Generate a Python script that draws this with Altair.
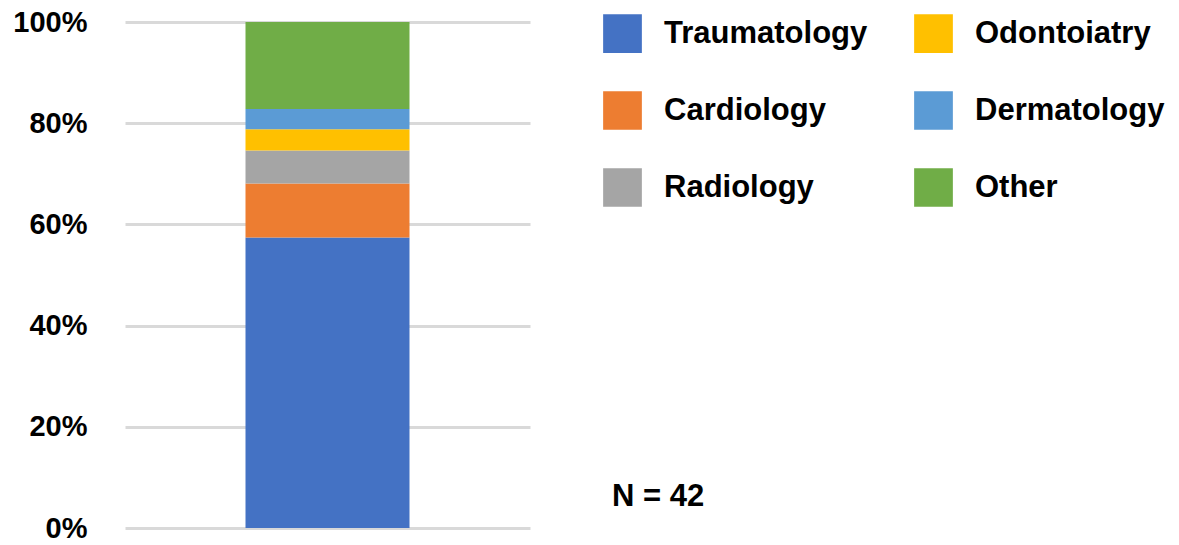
import altair as alt
import pandas as pd

categories = ["Traumatology", "Cardiology", "Radiology", "Odontoiatry", "Dermatology", "Other"]
percentages = [57.4, 10.7, 6.5, 4.2, 4.0, 17.2]
colors = ["#4472C4", "#ED7D31", "#A5A5A5", "#FFC000", "#5B9BD5", "#70AD47"]
y_ticks = [0, 0.2, 0.4, 0.6, 0.8, 1.0]
n_total = [42]

df = pd.DataFrame({
    "group": ["All"] * len(categories),
    "category": categories,
    "share": [p / 100 for p in percentages],
    "stack": list(range(len(categories))),
})
FONT = "Liberation Sans"

bars = alt.Chart(df).mark_bar(size=164).encode(
    x=alt.X("group:N", axis=None),
    y=alt.Y("share:Q", stack="zero", scale=alt.Scale(domain=[0, 1]),
            axis=alt.Axis(values=y_ticks, format=".0%", title=None)),
    color=alt.Color("category:N",
                    scale=alt.Scale(domain=categories, range=colors),
                    legend=alt.Legend(title=None, orient="none", legendX=478, legendY=-8, columns=2,
                                      symbolType="square", symbolSize=1500, symbolStrokeWidth=0,
                                      symbolOpacity=1, labelFont=FONT, labelFontSize=31,
                                      labelFontWeight="bold", labelColor="black", labelOffset=22,
                                      rowPadding=38, columnPadding=46, padding=0, labelLimit=500)),
    order=alt.Order("stack:Q", sort="ascending"),
)

note = alt.Chart(pd.DataFrame({"n": n_total})).transform_calculate(
    label="'N = ' + datum.n"
).mark_text(align="left", baseline="middle", fontSize=31, font=FONT, fontWeight="bold", color="black").encode(
    x=alt.value(487), y=alt.value(475), text="label:N"
)

chart = alt.layer(bars, note).properties(
    width=405, height=506,
    autosize="none",
    padding={"left": 117, "top": 14, "right": 641, "bottom": 17},
).configure_view(stroke=None).configure_axis(
    domain=False, ticks=False, grid=True, gridColor="#d9d9d9", gridWidth=3,
    labelFont=FONT, labelFontSize=29, labelFontWeight="bold", labelColor="black", labelPadding=38,
)

chart.save("out.html", embed_options={"renderer": "svg", "actions": False})
